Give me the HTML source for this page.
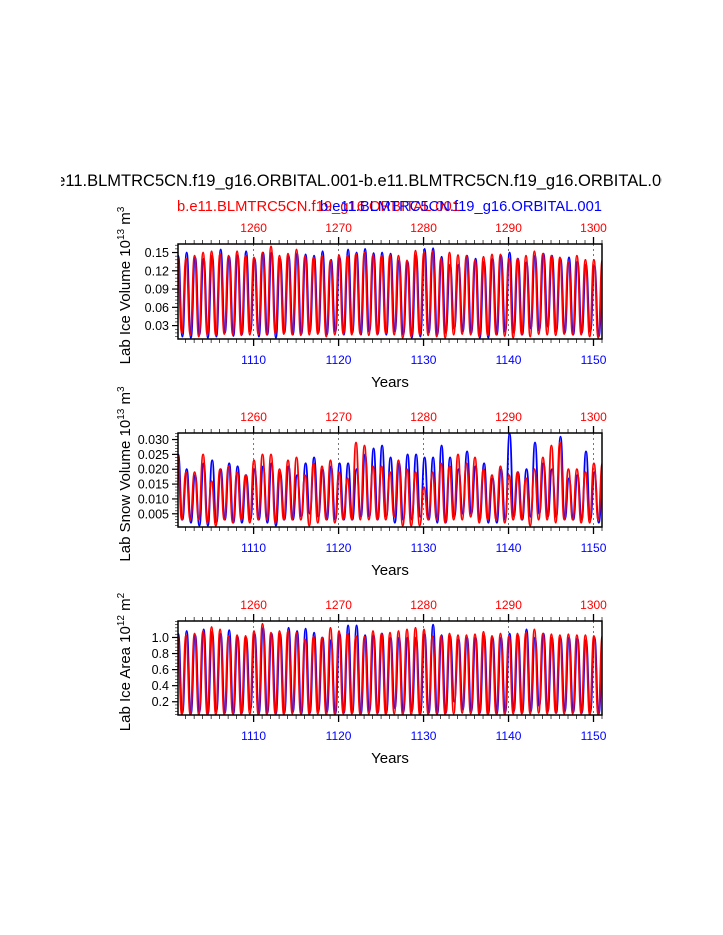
<!DOCTYPE html>
<html><head><meta charset="utf-8"><style>
html,body{margin:0;padding:0;background:#fff;}
svg{display:block;font-family:"Liberation Sans",Arial,sans-serif;}
</style></head><body>
<svg id="chart" width="723" height="935" viewBox="0 0 723 935" xmlns="http://www.w3.org/2000/svg">
<text x="361" y="186" font-size="16.5" text-anchor="middle">b.e11.BLMTRC5CN.f19_g16.ORBITAL.001-b.e11.BLMTRC5CN.f19_g16.ORBITAL.001</text>
<rect x="0" y="160" width="61" height="40" fill="#fff"/>
<rect x="662" y="160" width="61" height="40" fill="#fff"/>
<text x="177" y="211" font-size="15" fill="#ff0000" textLength="283" lengthAdjust="spacingAndGlyphs">b.e11.BLMTRC5CN.f19_g16.ORBITAL.001</text>
<text x="320" y="211" font-size="15" fill="#0000ff" textLength="282" lengthAdjust="spacingAndGlyphs">b.e11.BLMTRC5CN.f19_g16.ORBITAL.001</text>
</svg>
<script>
const years=[1101,1102,1103,1104,1105,1106,1107,1108,1109,1110,1111,1112,1113,1114,1115,1116,1117,1118,1119,1120,1121,1122,1123,1124,1125,1126,1127,1128,1129,1130,1131,1132,1133,1134,1135,1136,1137,1138,1139,1140,1141,1142,1143,1144,1145,1146,1147,1148,1149,1150];
const bottomTicks=[1110,1120,1130,1140,1150];
const topTickLabels=["1260","1270","1280","1290","1300"];
const b1p=[0.145,0.150,0.142,0.140,0.145,0.155,0.143,0.146,0.152,0.140,0.150,0.150,0.140,0.145,0.148,0.147,0.145,0.152,0.138,0.142,0.155,0.150,0.156,0.149,0.150,0.148,0.137,0.135,0.146,0.156,0.157,0.143,0.130,0.130,0.145,0.140,0.135,0.140,0.145,0.150,0.140,0.134,0.145,0.148,0.145,0.140,0.142,0.135,0.130,0.128];
const b1t=[0.012,0.010,0.015,0.010,0.012,0.018,0.013,0.015,0.020,0.012,0.015,0.010,0.018,0.015,0.016,0.020,0.018,0.015,0.020,0.015,0.018,0.015,0.020,0.016,0.015,0.020,0.015,0.010,0.012,0.018,0.015,0.018,0.025,0.020,0.018,0.010,0.010,0.015,0.020,0.018,0.015,0.025,0.022,0.028,0.020,0.018,0.015,0.018,0.020,0.012];
const r1p=[0.142,0.140,0.145,0.150,0.152,0.148,0.145,0.152,0.145,0.142,0.150,0.160,0.145,0.148,0.155,0.144,0.142,0.145,0.137,0.146,0.145,0.148,0.150,0.146,0.145,0.146,0.145,0.137,0.153,0.150,0.152,0.140,0.150,0.146,0.145,0.137,0.143,0.147,0.147,0.140,0.140,0.145,0.152,0.148,0.145,0.142,0.135,0.145,0.138,0.138];
const r1t=[0.018,0.015,0.012,0.015,0.014,0.016,0.015,0.014,0.015,0.016,0.015,0.017,0.016,0.015,0.014,0.015,0.016,0.012,0.015,0.016,0.015,0.016,0.014,0.015,0.017,0.015,0.010,0.012,0.015,0.014,0.012,0.010,0.015,0.016,0.015,0.012,0.014,0.015,0.013,0.010,0.015,0.012,0.016,0.015,0.014,0.016,0.015,0.015,0.012,0.010];
const b2p=[0.025,0.020,0.018,0.022,0.023,0.020,0.022,0.021,0.018,0.020,0.021,0.022,0.019,0.021,0.018,0.022,0.024,0.020,0.021,0.022,0.022,0.020,0.025,0.027,0.028,0.024,0.022,0.025,0.025,0.024,0.024,0.028,0.024,0.020,0.026,0.021,0.022,0.017,0.020,0.032,0.019,0.020,0.029,0.022,0.020,0.031,0.017,0.018,0.026,0.019];
const b2t=[0.003,0.002,0.001,0.001,0.002,0.003,0.002,0.002,0.003,0.003,0.002,0.001,0.003,0.003,0.004,0.005,0.004,0.003,0.003,0.003,0.003,0.004,0.004,0.003,0.004,0.002,0.003,0.003,0.004,0.003,0.002,0.002,0.004,0.005,0.005,0.003,0.002,0.002,0.003,0.004,0.003,0.004,0.005,0.004,0.004,0.003,0.003,0.003,0.003,0.002];
const r2p=[0.025,0.019,0.019,0.025,0.016,0.020,0.021,0.019,0.018,0.023,0.025,0.025,0.020,0.023,0.024,0.018,0.022,0.021,0.023,0.019,0.017,0.029,0.028,0.021,0.021,0.019,0.023,0.020,0.019,0.014,0.019,0.022,0.021,0.025,0.022,0.024,0.020,0.018,0.021,0.018,0.019,0.017,0.020,0.024,0.028,0.029,0.020,0.020,0.019,0.022];
const r2t=[0.003,0.003,0.003,0.002,0.001,0.003,0.002,0.003,0.002,0.003,0.003,0.002,0.003,0.003,0.003,0.001,0.002,0.003,0.002,0.003,0.003,0.003,0.003,0.003,0.003,0.004,0.001,0.001,0.001,0.003,0.003,0.002,0.003,0.003,0.004,0.002,0.003,0.003,0.002,0.003,0.003,0.001,0.003,0.003,0.002,0.003,0.003,0.002,0.002,0.003];
const b3p=[1.05,1.08,1.03,1.10,1.07,1.05,1.09,1.01,1.00,1.05,1.12,1.05,1.05,1.12,1.08,1.11,1.06,1.00,0.97,1.05,1.15,1.15,1.03,1.03,1.05,1.00,1.00,1.00,1.00,1.05,1.16,1.03,1.02,0.98,1.00,1.00,1.03,1.00,1.00,1.05,1.03,1.10,1.00,1.05,1.00,1.00,1.00,0.99,0.97,1.00];
const b3t=[0.06,0.05,0.07,0.05,0.08,0.06,0.05,0.06,0.10,0.05,0.06,0.05,0.06,0.07,0.05,0.06,0.08,0.07,0.05,0.06,0.06,0.05,0.08,0.06,0.06,0.12,0.07,0.08,0.05,0.06,0.05,0.06,0.20,0.10,0.08,0.06,0.05,0.05,0.07,0.08,0.06,0.08,0.15,0.08,0.06,0.08,0.07,0.06,0.07,0.05];
const r3p=[1.02,1.03,1.05,1.08,1.13,1.10,1.02,1.03,1.02,1.08,1.17,1.06,1.08,1.08,1.06,0.98,1.01,1.00,1.12,1.08,1.05,1.02,1.01,1.08,1.05,1.06,1.08,1.10,1.12,1.10,1.02,1.02,1.05,1.03,1.03,1.04,1.07,1.02,1.05,1.02,1.05,1.06,1.10,1.05,1.04,1.03,1.04,1.03,1.03,1.02];
const r3t=[0.04,0.04,0.04,0.04,0.04,0.04,0.05,0.04,0.05,0.04,0.04,0.05,0.04,0.05,0.05,0.04,0.05,0.04,0.04,0.05,0.05,0.04,0.05,0.05,0.04,0.05,0.04,0.04,0.04,0.04,0.05,0.04,0.05,0.06,0.05,0.04,0.04,0.05,0.04,0.05,0.05,0.05,0.06,0.05,0.06,0.05,0.05,0.05,0.04,0.04];
const yTicks1=["0.03","0.06","0.09","0.12","0.15"];
const yTicks2=["0.005","0.010","0.015","0.020","0.025","0.030"];
const yTicks3=["0.2","0.4","0.6","0.8","1.0"];

const NS="http://www.w3.org/2000/svg";
const svg=document.getElementById('chart');
const X0=178,X1=602,YR0=1101.1,YR1=1151;
function xs(v){return X0+(v-YR0)/(YR1-YR0)*(X1-X0);}
function mk(tag,attrs,parent){const e=document.createElementNS(NS,tag);for(const k in attrs)e.setAttribute(k,attrs[k]);(parent||svg).appendChild(e);return e;}

const panels=[
 {name:'ice-volume',top:244,bot:339,ymin:0.008,ymax:0.164,ticks:yTicks1,minor:0.006,b:[b1p,b1t],r:[r1p,r1t],title:['Lab Ice Volume 10','13',' m','3']},
 {name:'snow-volume',top:433,bot:527,ymin:0.00055,ymax:0.0322,ticks:yTicks2,minor:0.001,b:[b2p,b2t],r:[r2p,r2t],title:['Lab Snow Volume 10','13',' m','3']},
 {name:'ice-area',top:621,bot:715,ymin:0.035,ymax:1.205,ticks:yTicks3,minor:0.04,b:[b3p,b3t],r:[r3p,r3t],title:['Lab Ice Area 10','12',' m','2']}
];

function curve(pk,tr,ys,off){
  const pts=[];
  for(let i=0;i<years.length;i++){
    pts.push([xs(years[i]+off),ys(pk[i])]);
    pts.push([xs(years[i]+off+0.5),ys(tr[i])]);
  }
  pts.push([xs(years[years.length-1]+1+off),ys(pk[pk.length-1])]);
  let d='M'+pts[0][0].toFixed(1)+','+pts[0][1].toFixed(1);
  for(let i=0;i<pts.length-1;i++){
    const p0=pts[i],p1=pts[i+1];
    const mx=(p1[0]-p0[0])/2;
    d+=' C'+(p0[0]+mx).toFixed(1)+','+p0[1].toFixed(1)+' '+(p1[0]-mx).toFixed(1)+','+p1[1].toFixed(1)+' '+p1[0].toFixed(1)+','+p1[1].toFixed(1);
  }
  return d;
}

panels.forEach((p,pi)=>{
  const g=mk('g',{});
  
  
  const ys=v=>p.bot-(v-p.ymin)/(p.ymax-p.ymin)*(p.bot-p.top);
  const cid='clip'+pi;
  const cp=mk('clipPath',{id:cid},g);mk('rect',{x:X0,y:p.top,width:X1-X0,height:p.bot-p.top},cp);
  bottomTicks.forEach(t=>{
    const l=mk('line',{x1:xs(t),x2:xs(t),y1:p.top,y2:p.bot,stroke:'#555','stroke-width':0.8,'stroke-dasharray':'2,3'},g);
    
    
  });
  const bl=mk('path',{d:curve(p.b[0],p.b[1],ys,0.12),fill:'none',stroke:'#0000ff','stroke-width':1.8,'clip-path':'url(#'+cid+')'},g);
  
  
  const rl=mk('path',{d:curve(p.r[0],p.r[1],ys,0.05),fill:'none',stroke:'#ff0000','stroke-width':1.8,'clip-path':'url(#'+cid+')'},g);
  
  
  const fr=mk('rect',{x:X0,y:p.top,width:X1-X0,height:p.bot-p.top,fill:'none',stroke:'#000','stroke-width':1.5},g);
  
  
  for(let yr=1102;yr<=1151;yr++){
    const major=yr%10===0;const len=major?7:4;
    mk('line',{x1:xs(yr),x2:xs(yr),y1:p.bot,y2:p.bot+len,stroke:'#000','stroke-width':major?1.3:0.7},g);
    mk('line',{x1:xs(yr),x2:xs(yr),y1:p.top,y2:p.top-len,stroke:'#000','stroke-width':major?1.3:0.7},g);
  }
  bottomTicks.forEach((t,i)=>{
    const tb=mk('text',{x:xs(t),y:p.bot+25,'font-size':12,fill:'#0000ff','text-anchor':'middle'},g);tb.textContent=String(t);
    
    
    const tt=mk('text',{x:xs(t),y:p.top-12,'font-size':12,fill:'#ff0000','text-anchor':'middle'},g);tt.textContent=topTickLabels[i];
    
    
  });
  for(let v=Math.ceil(p.ymin/p.minor)*p.minor;v<=p.ymax;v+=p.minor){
    mk('line',{x1:X0,x2:X0-3,y1:ys(v),y2:ys(v),stroke:'#000','stroke-width':0.6},g);
  }
  p.ticks.forEach(t=>{
    const v=parseFloat(t);
    mk('line',{x1:X0,x2:X0-6,y1:ys(v),y2:ys(v),stroke:'#000','stroke-width':1.2},g);
    const tx=mk('text',{x:X0-9,y:ys(v)+4.5,'font-size':12.5,'text-anchor':'end'},g);tx.textContent=t;
    
    
  });
  const xt=mk('text',{x:390,y:p.bot+48,'font-size':15,'text-anchor':'middle'},g);xt.textContent='Years';
  
  
  const cy=(p.top+p.bot)/2;
  const yt=mk('text',{x:0,y:0,'font-size':15,'text-anchor':'middle',transform:'translate(130,'+(cy-6)+') rotate(-90)'},g);
  
  
  const parts=p.title;
  const s1=mk('tspan',{},yt);s1.textContent=parts[0];
  const s2=mk('tspan',{dy:-6,'font-size':10},yt);s2.textContent=parts[1];
  const s3=mk('tspan',{dy:6},yt);s3.textContent=parts[2];
  const s4=mk('tspan',{dy:-6,'font-size':10},yt);s4.textContent=parts[3];
});
</script>
</body></html>
